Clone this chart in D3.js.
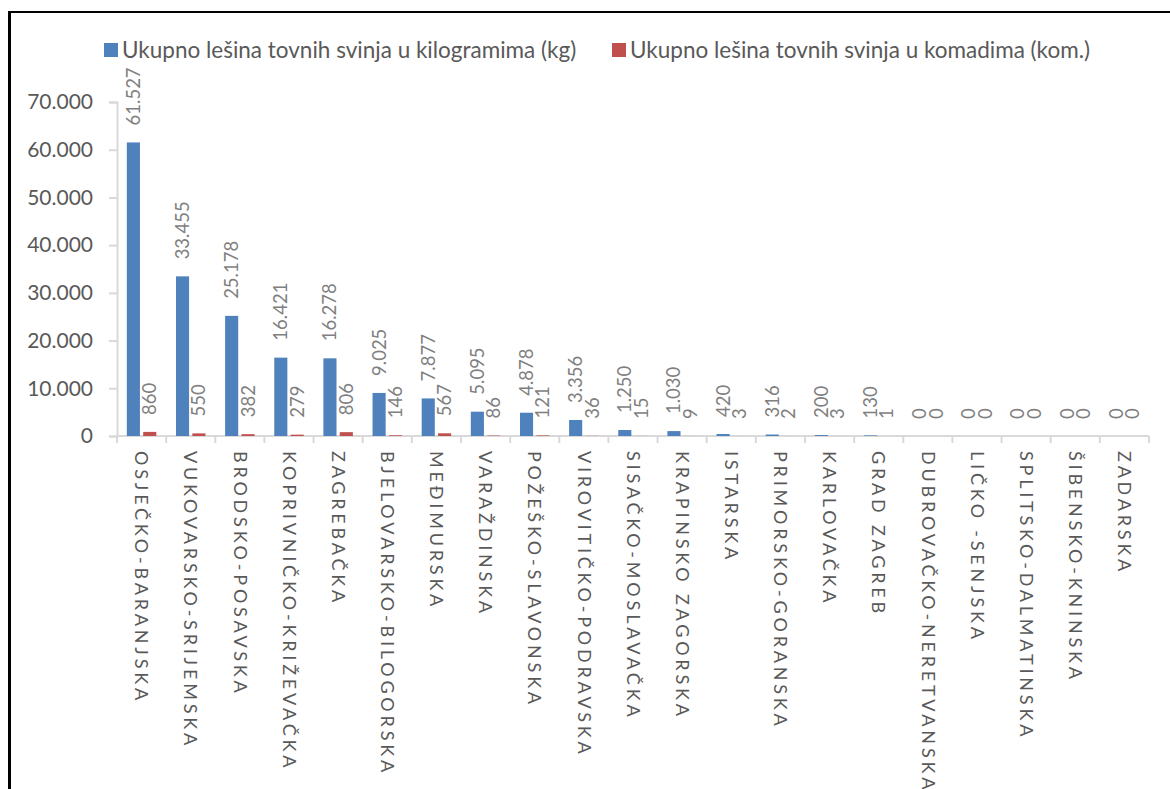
<!DOCTYPE html>
<meta charset="utf-8">
<script src="https://d3js.org/d3.v7.min.js"></script>
<style>
  body { margin: 0; background: #fff; }
  text { font-family: Lato, "Open Sans", sans-serif; }
</style>
<body>
<div id="chart"></div>
<script>

// counties (zupanije), in the order of the chart
var categories = ['OSJEČKO-BARANJSKA', 'VUKOVARSKO-SRIJEMSKA', 'BRODSKO-POSAVSKA',
    'KOPRIVNIČKO-KRIŽEVAČKA', 'ZAGREBAČKA', 'BJELOVARSKO-BILOGORSKA', 'MEĐIMURSKA',
    'VARAŽDINSKA', 'POŽEŠKO-SLAVONSKA', 'VIROVITIČKO-PODRAVSKA', 'SISAČKO-MOSLAVAČKA',
    'KRAPINSKO ZAGORSKA', 'ISTARSKA', 'PRIMORSKO-GORANSKA', 'KARLOVAČKA', 'GRAD ZAGREB',
    'DUBROVAČKO-NERETVANSKA', 'LIČKO -SENJSKA', 'SPLITSKO-DALMATINSKA',
    'ŠIBENSKO-KNINSKA', 'ZADARSKA'];

var kgValues = [61527, 33455, 25178, 16421, 16278, 9025, 7877, 5095, 4878, 3356,
    1250, 1030, 420, 316, 200, 130, 0, 0, 0, 0, 0];

var komValues = [860, 550, 382, 279, 806, 146, 567, 86, 121, 36,
    15, 9, 3, 2, 3, 1, 0, 0, 0, 0, 0];

var seriesNames = ['Ukupno lešina tovnih svinja u kilogramima (kg)',
    'Ukupno lešina tovnih svinja u komadima (kom.)'];
var seriesColors = ['#4f81bd', '#c0504d'];

var yTicks = [0, 10000, 20000, 30000, 40000, 50000, 60000, 70000];

var hr = d3.formatLocale({decimal: ',', thousands: '.', grouping: [3], currency: ['', '']});
var fmt = hr.format(',d');

var W = 1170, H = 789;
var margin = {top: 102, right: 21, bottom: 353, left: 117};
var width = W - margin.left - margin.right,
    height = H - margin.top - margin.bottom;

var svg = d3.select('#chart').append('svg')
    .attr('width', W)
    .attr('height', H);

svg.append('rect').attr('width', W).attr('height', H).attr('fill', '#fff');

// frame of the pasted picture (only top and left are visible)
svg.append('line').attr('x1', 9).attr('x2', W).attr('y1', 12).attr('y2', 12)
    .attr('stroke', '#000').attr('stroke-width', 2);
svg.append('line').attr('x1', 9.5).attr('x2', 9.5).attr('y1', 11).attr('y2', H)
    .attr('stroke', '#000').attr('stroke-width', 3);

var g = svg.append('g')
    .attr('transform', 'translate(' + margin.left + ',' + margin.top + ')');

var x0 = d3.scaleBand().domain(categories).range([0, width]).padding(0);
// gap width 150%, overlap -25%
var w = x0.bandwidth() / 3.75;
var x1 = d3.scaleBand().domain([0, 1])
    .range([0.75 * w, x0.bandwidth() - 0.75 * w])
    .paddingInner(0.2).paddingOuter(0);

var y = d3.scaleLinear().domain([0, 70000]).range([height, 0]);

// y axis
var yAxis = g.append('g')
    .call(d3.axisLeft(y).tickValues(yTicks).tickSize(8).tickPadding(16).tickFormat(fmt));
yAxis.select('.domain').attr('stroke', '#d9d9d9').attr('stroke-width', 2);
yAxis.selectAll('.tick line').attr('stroke', '#d9d9d9').attr('stroke-width', 2);
yAxis.selectAll('.tick text').attr('fill', '#595959')
    .style('font-size', '21px').style('font-family', 'Lato');

// x axis: ticks on the category boundaries
var xAxis = g.append('g').attr('transform', 'translate(0,' + height + ')');
xAxis.append('line').attr('x1', 0).attr('x2', width)
    .attr('stroke', '#d9d9d9').attr('stroke-width', 2);
xAxis.selectAll('.xtick')
    .data(categories)
    .enter().append('line')
    .attr('class', 'xtick')
    .attr('x1', function(d) { return x0(d) + x0.bandwidth(); })
    .attr('x2', function(d) { return x0(d) + x0.bandwidth(); })
    .attr('y1', 0).attr('y2', 7)
    .attr('stroke', '#d9d9d9').attr('stroke-width', 2);
xAxis.append('line').attr('x1', 0).attr('x2', 0).attr('y1', 0).attr('y2', 7)
    .attr('stroke', '#d9d9d9').attr('stroke-width', 2);

xAxis.selectAll('.xlabel')
    .data(categories)
    .enter().append('text')
    .attr('class', 'xlabel')
    .attr('transform', function(d) {
        return 'translate(' + (x0(d) + x0.bandwidth() / 2) + ',15)rotate(90)';
    })
    .attr('dy', '0.35em')
    .attr('fill', '#595959')
    .style('font-size', '18px')
    .style('letter-spacing', '3.8px')
    .text(function(d) { return d; });

// bars
var rows = categories.map(function(c, i) {
    return {cat: c, vals: [kgValues[i], komValues[i]]};
});

var groups = g.selectAll('.grp')
    .data(rows)
    .enter().append('g')
    .attr('class', 'grp')
    .attr('transform', function(d) { return 'translate(' + x0(d.cat) + ',0)'; });

groups.selectAll('rect')
    .data(function(d) { return d.vals; })
    .enter().append('rect')
    .attr('x', function(d, i) { return x1(i); })
    .attr('width', x1.bandwidth())
    .attr('y', function(d) { return y(d); })
    .attr('height', function(d) { return height - y(d); })
    .attr('fill', function(d, i) { return seriesColors[i]; });

groups.selectAll('.val')
    .data(function(d) { return d.vals; })
    .enter().append('text')
    .attr('class', 'val')
    .attr('transform', function(d, i) {
        return 'translate(' + (x1(i) + x1.bandwidth() / 2) + ',' + (y(d) - 17) + ')rotate(-90)';
    })
    .attr('dy', '0.35em')
    .attr('fill', '#7f7f7f')
    .style('font-size', '18.5px')
    .text(function(d) { return fmt(d); });

// legend
var legendX = [104, 612];
var legend = svg.selectAll('.leg')
    .data(seriesNames)
    .enter().append('g')
    .attr('class', 'leg')
    .attr('transform', function(d, i) { return 'translate(' + legendX[i] + ',43)'; });
legend.append('rect')
    .attr('width', 14).attr('height', 14)
    .attr('fill', function(d, i) { return seriesColors[i]; });
legend.append('text')
    .attr('x', 18).attr('y', 7).attr('dy', '0.35em')
    .attr('fill', '#595959')
    .style('font-size', '22.5px')
    .text(function(d) { return d; });

</script>
</body>
